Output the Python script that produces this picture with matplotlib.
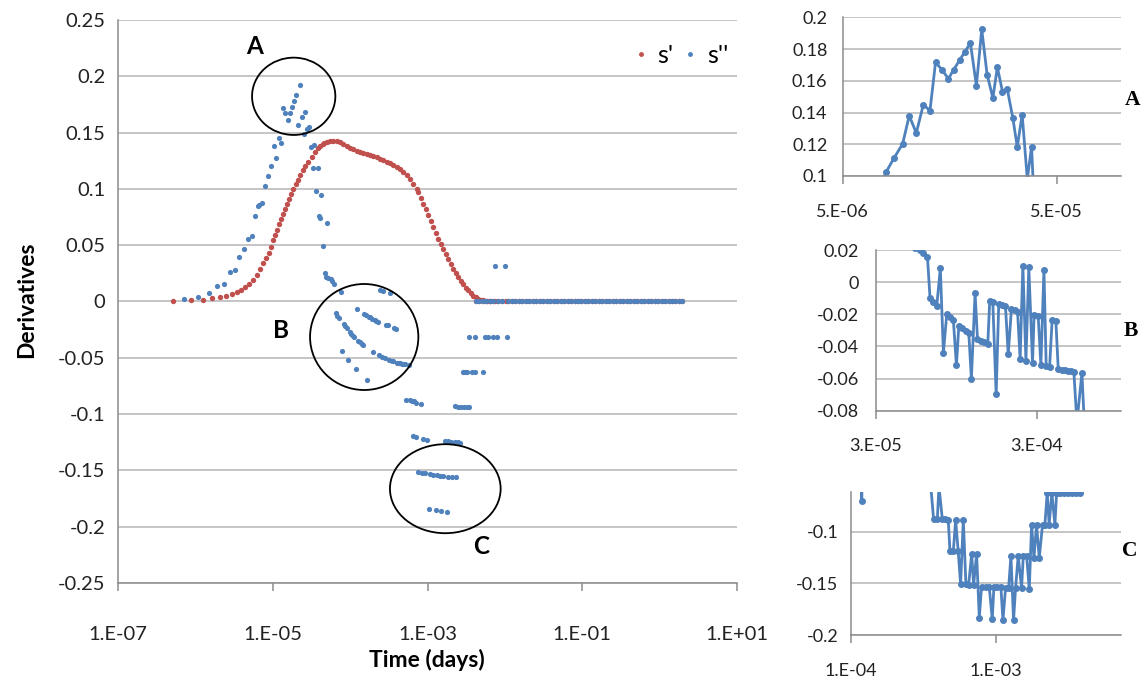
import numpy as np
import matplotlib
matplotlib.use("Agg")
import matplotlib.pyplot as plt
from matplotlib.patches import Ellipse
from matplotlib.lines import Line2D
from matplotlib.ticker import FixedLocator, NullLocator

plt.rcParams["font.family"] = ["Lato", "DejaVu Sans"]

RED = "#C0504D"
BLUE = "#4F81BD"
GRID = "#B5B5B5"
AXIS = "#8C8C8C"

# ---- main chart data: log10(time in days) and derivative values ----
s1_logt = [-6.293, -6.057, -5.898, -5.782, -5.682, -5.605, -5.531, -5.467, -5.411, -5.355,
           -5.304, -5.252, -5.208, -5.165, -5.123, -5.088, -5.053, -5.027, -4.997, -4.968,
           -4.942, -4.916, -4.890, -4.864, -4.838, -4.813, -4.787, -4.761, -4.735, -4.704,
           -4.674, -4.645, -4.614, -4.580, -4.541, -4.498, -4.455, -4.412, -4.390, -4.355,
           -4.334, -4.304, -4.261, -4.218, -4.175, -4.132, -4.089, -4.046, -4.003, -3.960,
           -3.916, -3.873, -3.830, -3.787, -3.744, -3.701, -3.658, -3.615, -3.572, -3.529,
           -3.486, -3.443, -3.400, -3.357, -3.314, -3.270, -3.227, -3.184, -3.141, -3.120,
           -3.088, -3.055, -3.025, -2.991, -2.960, -2.926, -2.896, -2.861, -2.831, -2.797,
           -2.767, -2.732, -2.702, -2.668, -2.637, -2.603, -2.573, -2.538, -2.508, -2.474,
           -2.444, -2.409, -2.379, -2.345, -2.314, -2.280, -2.237, -2.194, -2.129, -1.987]
s1_val = [0.0, 0.0009, 0.0015, 0.003, 0.0038, 0.005, 0.0068, 0.0083, 0.0104, 0.0127,
          0.0157, 0.0193, 0.0237, 0.029, 0.034, 0.0388, 0.0433, 0.0483, 0.0542, 0.0587,
          0.0637, 0.0684, 0.0732, 0.078, 0.0824, 0.0868, 0.0913, 0.0957, 0.1002, 0.1046,
          0.1082, 0.112, 0.1164, 0.12, 0.1238, 0.1283, 0.1327, 0.1366, 0.1378, 0.1396,
          0.1404, 0.1413, 0.1422, 0.1425, 0.1425, 0.1416, 0.1401, 0.1384, 0.1366, 0.1351,
          0.1339, 0.1327, 0.1316, 0.1307, 0.1298, 0.1289, 0.128, 0.1268, 0.1256, 0.1242,
          0.1227, 0.1209, 0.1191, 0.1173, 0.115, 0.112, 0.1084, 0.1046, 0.1002, 0.0972,
          0.0921, 0.0868, 0.0818, 0.0764, 0.0714, 0.0661, 0.061, 0.0557, 0.0513, 0.0468,
          0.0424, 0.0379, 0.0335, 0.029, 0.0252, 0.0216, 0.0181, 0.0151, 0.0124, 0.0098,
          0.0074, 0.0053, 0.0039, 0.0024, 0.0015, 0.0009, 0.0003, 0.0, 0.0, 0.0]

s2_logt = [-6.147, -5.962, -5.829, -5.721, -5.635, -5.553, -5.488, -5.433, -5.372, -5.325,
           -5.273, -5.230, -5.195, -5.174, -5.144, -5.098, -5.060, -5.021, -4.990, -4.957,
           -4.924, -4.893, -4.867, -4.837, -4.807, -4.782, -4.754, -4.729, -4.704, -4.676,
           -4.651, -4.626, -4.599, -4.578, -4.554, -4.532, -4.506, -4.485, -4.462, -4.438,
           -4.418, -4.404, -4.390, -4.373, -4.355, -4.326, -4.310, -4.300, -4.283,
           -4.249, -4.228, -4.203, -4.187, -4.166, -4.145, -4.123, -4.104, -4.083, -4.062,
           -4.042, -4.023, -4.008, -3.986, -3.965, -3.946, -3.930, -3.907, -3.892, -3.872,
           -3.851, -3.828, -3.816, -3.797, -3.776, -3.760, -3.739, -3.718, -3.701, -3.681,
           -3.660, -3.643, -3.627, -3.610, -3.591, -3.573, -3.550, -3.540, -3.515, -3.498,
           -3.479, -3.465, -3.444, -3.428, -3.405, -3.390, -3.369, -3.351, -3.332, -3.311,
           -3.293, -3.274, -3.243, -3.228, -3.202, -3.185, -3.170, -3.155, -3.148, -3.120,
           -3.089, -3.076, -3.056, -3.034, -3.012, -2.986, -2.969, -2.926, -2.896, -2.882,
           -2.840, -2.827, -2.797, -2.775, -2.749, -2.735, -2.732, -2.692, -2.689, -2.648,
           -2.646, -2.637, -2.611, -2.603, -2.581, -2.568, -2.539, -2.530, -2.513, -2.495,
           -2.487, -2.463, -2.461, -2.430, -2.388, -2.385, -2.288, -2.258, -2.216, -2.151,
           -2.129, -2.107, -2.004, -1.978]
s2_val = [0.0024, 0.0044, 0.0074, 0.0142, 0.0154, 0.026, 0.0276, 0.0394, 0.0468, 0.0551,
          0.0578, 0.0758, 0.0847, 0.086, 0.0874, 0.1025, 0.1116, 0.1202, 0.138, 0.1271,
          0.145, 0.1412, 0.1716, 0.167, 0.1613, 0.167, 0.1731, 0.1784, 0.1838, 0.1569,
          0.1924, 0.1639, 0.1492, 0.1685, 0.1532, 0.155, 0.1368, 0.1183, 0.1387, 0.098,
          0.1185, 0.0756, 0.0744, 0.095, 0.0495, 0.0255, 0.0222, 0.07, 0.0212,
          0.0198, 0.0183, 0.0158, -0.0101, -0.0126, -0.0146, 0.0086, -0.0439, -0.02, -0.0215,
          -0.0236, -0.0518, -0.0271, -0.0288, -0.0304, -0.0319, -0.0601, -0.0068, -0.0354, -0.0364,
          -0.0375, -0.0385, -0.0115, -0.0122, -0.0698, -0.0138, -0.0142, -0.0151, -0.0449, -0.0167,
          -0.0176, -0.0184, -0.0478, 0.0102, -0.049, 0.0092, -0.0501, -0.0205, -0.0209, -0.0516,
          0.0078, -0.0524, -0.053, -0.0236, -0.024, -0.0543, -0.0547, -0.0549, -0.0553, -0.0555,
          -0.0559, -0.0871, -0.0567, -0.0877, -0.0883, -0.1194, -0.0886, -0.0898, -0.12, -0.1511,
          -0.0907, -0.152, -0.1218, -0.1526, -0.1227, -0.184, -0.1535, -0.154, -0.1852, -0.1544,
          -0.155, -0.1861, -0.1553, -0.1238, -0.1867, -0.124, -0.1556, -0.1244, -0.1558, -0.1247,
          -0.0931, -0.1562, -0.125, -0.0933, -0.1253, -0.0936, -0.0625, -0.0936, -0.0626, -0.094,
          -0.0627, -0.0314, -0.094, -0.0628, -0.063, -0.0314, -0.063, -0.0314, -0.0314, -0.0314,
          0.0314, -0.0314, 0.0314, -0.0314]

# flat tail where both derivatives are zero
tail_logt = [-2.375, -2.33, -2.285, -2.24, -2.195, -2.15, -2.085, -2.04, -1.955, -1.91,
             -1.865, -1.82, -1.775, -1.73, -1.685, -1.64, -1.595, -1.55, -1.505, -1.46,
             -1.415, -1.37, -1.325, -1.28, -1.235, -1.19, -1.145, -1.1, -1.055, -1.01,
             -0.965, -0.92, -0.875, -0.83, -0.785, -0.74, -0.695, -0.65, -0.605, -0.56,
             -0.515, -0.47, -0.425, -0.38, -0.335, -0.29, -0.245, -0.2, -0.155, -0.11,
             -0.065, -0.02, 0.025, 0.07, 0.115, 0.16, 0.205, 0.25, 0.295]
tail_val = [0.0] * len(tail_logt)

# ---- inset C ----
c_t = [1.17e-4, 1.19e-4, 1.22e-4, 3.55e-4, 3.71e-4, 3.94e-4, 4.04e-4, 4.26e-4, 4.47e-4, 4.68e-4,
       4.81e-4, 5.07e-4, 5.26e-4, 5.48e-4, 5.69e-4, 5.94e-4, 6.19e-4, 6.46e-4, 6.78e-4, 6.99e-4,
       7.33e-4, 7.65e-4, 7.93e-4, 8.45e-4, 8.95e-4, 9.39e-4, 9.64e-4, 1.016e-3, 1.076e-3, 1.112e-3,
       1.159e-3, 1.216e-3, 1.262e-3, 1.315e-3, 1.358e-3, 1.416e-3, 1.493e-3, 1.535e-3, 1.617e-3,
       1.687e-3, 1.75e-3, 1.816e-3, 1.892e-3, 1.975e-3, 2.08e-3, 2.16e-3, 2.24e-3, 2.31e-3,
       2.41e-3, 2.53e-3, 2.60e-3, 2.74e-3, 2.92e-3, 3.12e-3, 3.33e-3, 3.53e-3, 3.76e-3]
c_val = [-0.012, -0.0706, -0.014, -0.056, -0.0874, -0.0874, -0.056, -0.0877, -0.0881, -0.0884,
         -0.119, -0.119, -0.089, -0.119, -0.1506, -0.089, -0.1506, -0.1516, -0.1213, -0.1516,
         -0.1213, -0.1829, -0.1529, -0.1529, -0.1529, -0.1845, -0.1529, -0.1529, -0.1529, -0.1855,
         -0.1545, -0.1545, -0.1232, -0.1855, -0.1545, -0.1232, -0.1545, -0.1232, -0.1232,
         -0.1555, -0.0932, -0.1255, -0.0932, -0.1255, -0.0932, -0.0932, -0.0624, -0.0932,
         -0.0624, -0.0932, -0.0624, -0.063, -0.063, -0.063, -0.063, -0.063, -0.063]

main_xticks = [1e-7, 1e-5, 1e-3, 1e-1, 1e1]
main_xlabels = ["1.E-07", "1.E-05", "1.E-03", "1.E-01", "1.E+01"]
main_yticks = [0.25, 0.2, 0.15, 0.1, 0.05, 0, -0.05, -0.1, -0.15, -0.2, -0.25]

W, H = 1147, 677
fig = plt.figure(figsize=(W / 100, H / 100), dpi=100)


def frac(x0, y0, x1, y1):
    return [x0 / W, 1 - y1 / H, (x1 - x0) / W, (y1 - y0) / H]


def style(ax, ypad, xpad, size):
    for s in ("top", "right"):
        ax.spines[s].set_visible(False)
    for s in ("left", "bottom"):
        ax.spines[s].set_color(AXIS)
        ax.spines[s].set_linewidth(1.1)
    ax.yaxis.grid(True, color=GRID, lw=1.1)
    ax.set_axisbelow(True)
    ax.xaxis.set_minor_locator(NullLocator())
    ax.tick_params(axis="y", length=0, pad=ypad, labelsize=size, labelcolor="#222222")
    ax.tick_params(axis="x", length=6, width=1.1, color=AXIS, pad=xpad, labelsize=size,
                   labelcolor="#222222")


# ---- main chart ----
ax = fig.add_axes(frac(118, 20, 737, 583))
tail = np.array(tail_logt)
ax.scatter(10 ** np.r_[np.array(s1_logt), tail], np.r_[s1_val, tail_val],
           s=15, color=RED, linewidths=0, zorder=3)
ax.scatter(10 ** np.r_[np.array(s2_logt), tail], np.r_[s2_val, tail_val],
           s=14, color=BLUE, linewidths=0, zorder=4)
ax.set_xscale("log")
ax.set_xlim(1e-7, 1e1)
ax.set_ylim(-0.25, 0.25)
ax.xaxis.set_major_locator(FixedLocator(main_xticks))
ax.set_xticklabels(main_xlabels)
ax.yaxis.set_major_locator(FixedLocator(main_yticks))
ax.set_yticklabels([f"{v:g}" for v in main_yticks])
style(ax, 9, 25, 14.5)

handles = [Line2D([], [], ls="", marker="o", ms=3.5, mec="none", color=RED),
           Line2D([], [], ls="", marker="o", ms=3.5, mec="none", color=BLUE)]
ax.legend(handles, ["s'", "s''"], loc="upper right", bbox_to_anchor=(1.022, 0.997), ncol=2,
          frameon=False, fontsize=18, handlelength=0.7, handletextpad=0.3, columnspacing=0.35)

fig.text(27 / W, 1 - 300 / H, "Derivatives", rotation=90, fontsize=16.5, fontweight="bold",
         ha="center", va="center")
fig.text(427 / W, 1 - 660 / H, "Time (days)", fontsize=16.5, fontweight="bold",
         ha="center", va="center")

# circles and letters marking the zoomed regions
for cx, cy, ew, eh in [(293.7, 96.3, 83.3, 77.3), (364.2, 337, 108.3, 106),
                       (445.3, 488.7, 110.7, 89)]:
    fig.add_artist(Ellipse((cx / W, 1 - cy / H), ew / W, eh / H, transform=fig.transFigure,
                           fill=False, ec="black", lw=1.3))
for lx, ly, txt in [(255, 46, "A"), (281, 331, "B"), (481, 546, "C")]:
    fig.text(lx / W, 1 - ly / H, txt, fontsize=17.5, fontweight="bold", ha="center", va="center")

# ---- insets ----
order = np.argsort(s2_logt)
zt = 10 ** np.array(s2_logt)[order]
zv = np.array(s2_val)[order]


def inset(box, t, v, xlim, ylim, xticks, xlabels, yticks, ylabels, ypad, letter, lpos):
    a = fig.add_axes(frac(*box))
    a.plot(t, v, "-o", color=BLUE, lw=2, ms=4, mec=BLUE)
    a.set_xscale("log")
    a.set_xlim(*xlim)
    a.set_ylim(*ylim)
    a.xaxis.set_major_locator(FixedLocator(xticks))
    a.set_xticklabels(xlabels)
    a.yaxis.set_major_locator(FixedLocator(yticks))
    a.set_yticklabels(ylabels)
    style(a, ypad, 14, 13)
    fig.text(lpos[0] / W, 1 - lpos[1] / H, letter, fontsize=15.5, fontweight="bold",
             family="Liberation Serif", ha="center", va="center")
    return a


inset((842.7, 17.3, 1121, 176), zt, zv, (5e-6, 1e-4), (0.1, 0.2), [5e-6, 5e-5],
      ["5.E-06", "5.E-05"], [0.1, 0.12, 0.14, 0.16, 0.18, 0.2],
      ["0.1", "0.12", "0.14", "0.16", "0.18", "0.2"], 11, "A", (1133, 100))
inset((876, 250, 1121, 410.7), zt, zv, (3e-5, 1e-3), (-0.08, 0.02), [3e-5, 3e-4],
      ["3.E-05", "3.E-04"], [-0.08, -0.06, -0.04, -0.02, 0, 0.02],
      ["-0.08", "-0.06", "-0.04", "-0.02", "0", "0.02"], 12, "B", (1131, 331))
inset((850.7, 491.7, 1121, 635.3), c_t, c_val, (1e-4, 7.2e-3), (-0.2, -0.0614), [1e-4, 1e-3],
      ["1.E-04", "1.E-03"], [-0.2, -0.15, -0.1], ["-0.2", "-0.15", "-0.1"], 9, "C", (1130, 551))

fig.savefig("out.png", dpi=100)
